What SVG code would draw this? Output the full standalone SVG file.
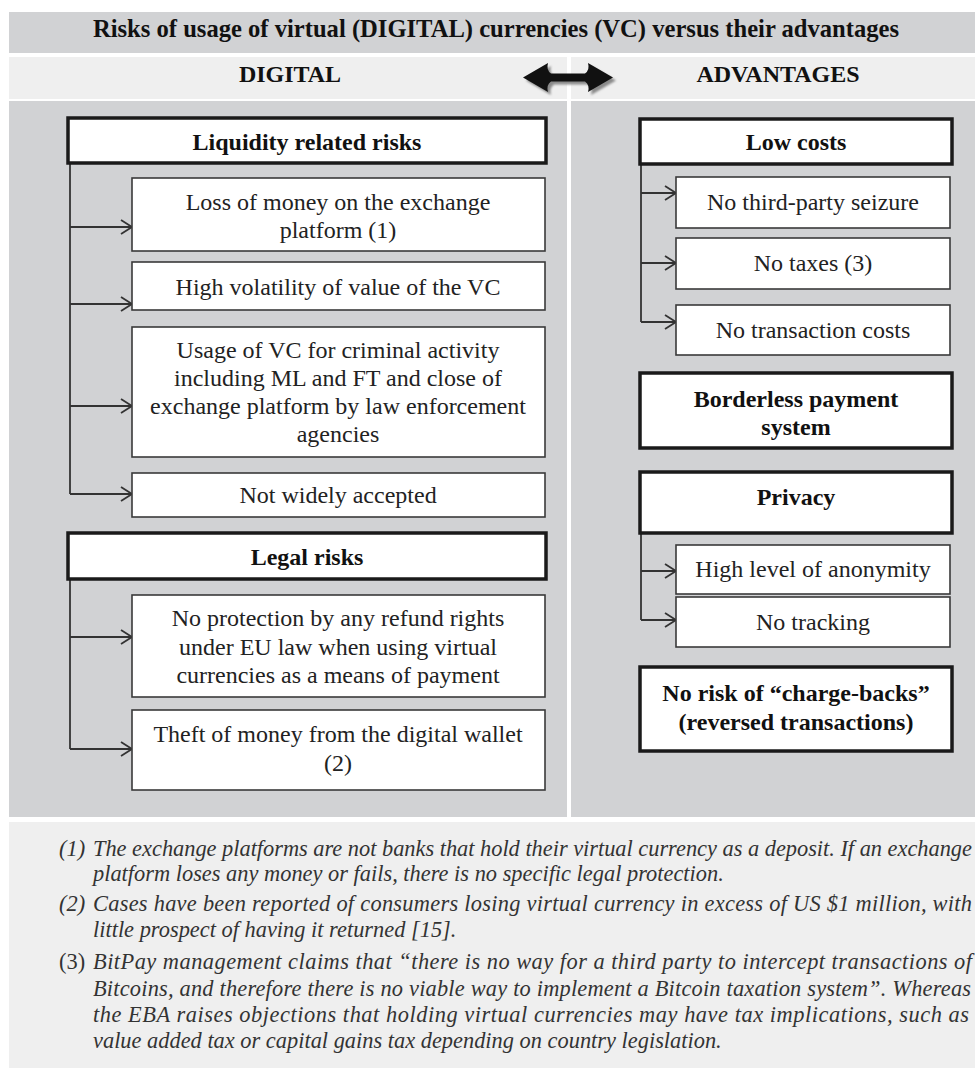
<svg xmlns="http://www.w3.org/2000/svg" width="975" height="1068" viewBox="0 0 975 1068">
  <defs>
    <style>
      .band { fill: #d1d2d4; }
      .band-light { fill: #efefef; }
      .head { fill: #ffffff; stroke: #1a1a1a; stroke-width: 3.5; }
      .item { fill: #ffffff; stroke: #3a3a3a; stroke-width: 1.6; }
      .t { font-family: "Liberation Serif", "Times New Roman", serif; font-size: 24px; fill: #222222; text-anchor: middle; }
      .tb { font-family: "Liberation Serif", "Times New Roman", serif; font-size: 24px; font-weight: bold; fill: #111111; text-anchor: middle; }
      .fn { font-family: "Liberation Serif", "Times New Roman", serif; font-size: 22.4px; font-style: italic; fill: #333333; }
      .fnr { font-family: "Liberation Serif", "Times New Roman", serif; font-size: 22.4px; fill: #333333; }
      .link { fill: none; stroke: #333333; stroke-width: 1.8; }
      .tip { fill: none; stroke: #333333; stroke-width: 1.8; marker-end: url(#chev); }
    </style>
    <marker id="chev" markerUnits="userSpaceOnUse" markerWidth="14" markerHeight="16" refX="12" refY="8" orient="auto">
      <path d="M1,1 L12,8 L1,15" fill="none" stroke="#333333" stroke-width="1.8"/>
    </marker>
    <filter id="soft" x="-10%" y="-20%" width="120%" height="140%">
      <feGaussianBlur stdDeviation="1.2"/>
    </filter>
  </defs>

  <rect width="975" height="1068" fill="#ffffff"/>

  <!-- heading bands -->
  <g id="title">
    <rect class="band" x="9" y="12" width="966" height="41"/>
    <text class="tb" x="496" y="37" style="font-size:24.6px">Risks of usage of virtual (DIGITAL) currencies (VC) versus their advantages</text>
  </g>
  <g id="column-heads">
    <rect class="band-light" x="9" y="57" width="558" height="42"/>
    <rect class="band-light" x="571" y="57" width="404" height="42"/>
    <text class="tb" x="290" y="82">DIGITAL</text>
    <text class="tb" x="778" y="82">ADVANTAGES</text>
  </g>
  <g id="double-arrow">
    <path d="M523,77.5 L548,63 Q546,70 551,73.5 L585,73.5 Q590,70 588,63 L613,77.5 L588,92 Q590,85 585,81.5 L551,81.5 Q546,85 548,92 Z" fill="#8a8a8a" transform="translate(3,3)" filter="url(#soft)"/>
    <path d="M523,77.5 L548,63 Q546,70 551,73.5 L585,73.5 Q590,70 588,63 L613,77.5 L588,92 Q590,85 585,81.5 L551,81.5 Q546,85 548,92 Z" fill="#111111"/>
  </g>

  <!-- column panels -->
  <rect class="band" x="9" y="101" width="558" height="716"/>
  <rect class="band" x="571" y="101" width="404" height="716"/>

  <!-- connectors -->
  <g id="connectors">
    <path class="link" d="M70,163 V494"/>
    <path class="tip" d="M70,227 H132"/>
    <path class="tip" d="M70,304 H132"/>
    <path class="tip" d="M70,406 H132"/>
    <path class="tip" d="M70,494 H132"/>
    <path class="link" d="M70,579 V749"/>
    <path class="tip" d="M70,637 H132"/>
    <path class="tip" d="M70,749 H132"/>
    <path class="link" d="M641,164 V322"/>
    <path class="tip" d="M641,193 H676"/>
    <path class="tip" d="M641,263 H676"/>
    <path class="tip" d="M641,322 H676"/>
    <path class="link" d="M641,533 V620"/>
    <path class="tip" d="M641,571 H676"/>
    <path class="tip" d="M641,620 H676"/>
  </g>

  <!-- risks column -->
  <g id="liquidity-risks">
    <rect class="head" x="68" y="118" width="478" height="45"/>
    <text class="tb" x="307" y="150">Liquidity related risks</text>
  </g>
  <g id="loss-of-money">
    <rect class="item" x="132" y="178" width="413" height="73"/>
    <text class="t" x="338" y="210">Loss of money on the exchange</text>
    <text class="t" x="338" y="238">platform (1)</text>
  </g>
  <g id="high-volatility">
    <rect class="item" x="132" y="262" width="413" height="48"/>
    <text class="t" x="338" y="295">High volatility of value of the VC</text>
  </g>
  <g id="criminal-usage">
    <rect class="item" x="132" y="327" width="413" height="130"/>
    <text class="t" x="338" y="358">Usage of VC for criminal activity</text>
    <text class="t" x="338" y="386">including ML and FT and close of</text>
    <text class="t" x="338" y="414">exchange platform by law enforcement</text>
    <text class="t" x="338" y="442">agencies</text>
  </g>
  <g id="not-accepted">
    <rect class="item" x="132" y="473" width="413" height="44"/>
    <text class="t" x="338" y="503">Not widely accepted</text>
  </g>
  <g id="legal-risks">
    <rect class="head" x="68" y="533" width="478" height="46"/>
    <text class="tb" x="307" y="565">Legal risks</text>
  </g>
  <g id="no-refund">
    <rect class="item" x="132" y="595" width="413" height="102"/>
    <text class="t" x="338" y="626">No protection by any refund rights</text>
    <text class="t" x="338" y="655">under EU law when using virtual</text>
    <text class="t" x="338" y="683">currencies as a means of payment</text>
  </g>
  <g id="wallet-theft">
    <rect class="item" x="132" y="710" width="413" height="80"/>
    <text class="t" x="338" y="742">Theft of money from the digital wallet</text>
    <text class="t" x="338" y="771">(2)</text>
  </g>

  <!-- advantages column -->
  <g id="low-costs">
    <rect class="head" x="640" y="119" width="312" height="45"/>
    <text class="tb" x="796" y="150">Low costs</text>
  </g>
  <g id="no-seizure">
    <rect class="item" x="676" y="177" width="274" height="51"/>
    <text class="t" x="813" y="210">No third-party seizure</text>
  </g>
  <g id="no-taxes">
    <rect class="item" x="676" y="238" width="274" height="51"/>
    <text class="t" x="813" y="271">No taxes (3)</text>
  </g>
  <g id="no-transaction-costs">
    <rect class="item" x="676" y="305" width="274" height="50"/>
    <text class="t" x="813" y="338">No transaction costs</text>
  </g>
  <g id="borderless">
    <rect class="head" x="640" y="373" width="312" height="75"/>
    <text class="tb" x="796" y="407">Borderless payment</text>
    <text class="tb" x="796" y="435">system</text>
  </g>
  <g id="privacy">
    <rect class="head" x="640" y="472" width="312" height="61"/>
    <text class="tb" x="796" y="505">Privacy</text>
  </g>
  <g id="anonymity">
    <rect class="item" x="676" y="545" width="274" height="49"/>
    <text class="t" x="813" y="577">High level of anonymity</text>
  </g>
  <g id="no-tracking">
    <rect class="item" x="676" y="597" width="274" height="50"/>
    <text class="t" x="813" y="630">No tracking</text>
  </g>
  <g id="no-chargebacks">
    <rect class="head" x="640" y="667" width="312" height="84"/>
    <text class="tb" x="796" y="701">No risk of “charge-backs”</text>
    <text class="tb" x="796" y="730">(reversed transactions)</text>
  </g>

  <!-- notes -->
  <g id="notes">
    <rect class="band-light" x="9" y="822" width="966" height="246"/>
    <text class="fn" x="59" y="856">(1)</text>
    <text class="fn" x="93" y="856" textLength="879" lengthAdjust="spacing">The exchange platforms are not banks that hold their virtual currency as a deposit. If an exchange</text>
    <text class="fn" x="93" y="881">platform loses any money or fails, there is no specific legal protection.</text>
    <text class="fn" x="59" y="911">(2)</text>
    <text class="fn" x="93" y="911" textLength="879" lengthAdjust="spacing">Cases have been reported of consumers losing virtual currency in excess of US $1 million, with</text>
    <text class="fn" x="93" y="937">little prospect of having it returned [15].</text>
    <text class="fnr" x="59" y="969">(3)</text>
    <text class="fn" x="93" y="969" textLength="879" lengthAdjust="spacing">BitPay management claims that “there is no way for a third party to intercept transactions of</text>
    <text class="fn" x="93" y="996" textLength="878" lengthAdjust="spacing">Bitcoins, and therefore there is no viable way to implement a Bitcoin taxation system”. Whereas</text>
    <text class="fn" x="93" y="1022" textLength="876" lengthAdjust="spacing">the EBA raises objections that holding virtual currencies may have tax implications, such as</text>
    <text class="fn" x="93" y="1048">value added tax or capital gains tax depending on country legislation.</text>
  </g>
</svg>
